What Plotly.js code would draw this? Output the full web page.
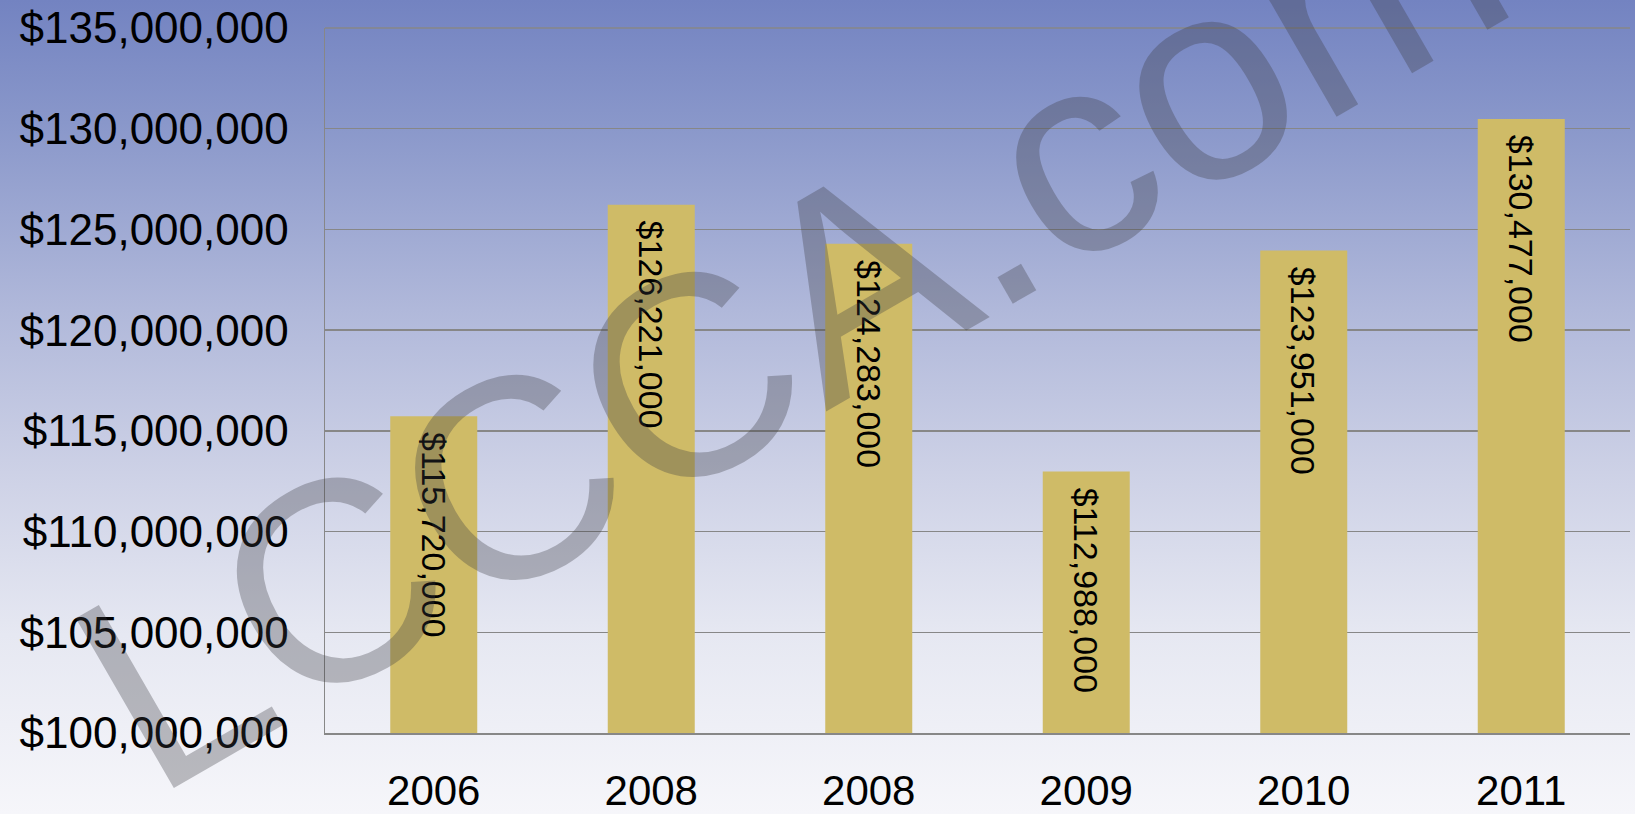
<!DOCTYPE html>
<html>
<head>
<meta charset="utf-8">
<script src="https://cdn.plot.ly/plotly-3.0.1.min.js"></script>
<style>
  html, body { margin: 0; padding: 0; width: 1635px; height: 814px; overflow: hidden; }
  body { background: linear-gradient(to bottom, #7383c1 0%, #8997ca 15%, #b0b8da 38%, #cdd1e6 58%, #e6e8f2 78%, #f6f6fa 100%); }
  #chart { width: 1635px; height: 814px; }
</style>
</head>
<body>
<div id="chart"></div>
<script>
const categories = ["2006", "2008", "2008", "2009", "2010", "2011"];
const values = [115720000, 126221000, 124283000, 112988000, 123951000, 130477000];
const yTickValues = [100000000, 105000000, 110000000, 115000000, 120000000, 125000000, 130000000, 135000000];
const watermarkText = "LCCCA.com";

const FONT = "Liberation Sans, Arial, sans-serif";
const fmt = v => "$" + v.toLocaleString("en-US");
const xIdx = categories.map((_, i) => i);

const trace = {
  type: "bar",
  x: xIdx,
  y: values,
  marker: { color: "#cfbb67", line: { width: 0 } },
  width: 0.4,
  hoverinfo: "none"
};

const labelAnnotations = values.map((v, i) => ({
  x: xIdx[i], y: v, xref: "x", yref: "y",
  text: fmt(v),
  showarrow: false,
  textangle: 90,
  xanchor: "center", yanchor: "top",
  yshift: -14,
  font: { family: FONT, size: 34, color: "#000000" }
}));

const watermark = {
  text: watermarkText,
  xref: "paper", yref: "paper",
  x: (790 - 325) / 1305,
  y: 1 - (318 - 28) / 705,
  xanchor: "center", yanchor: "middle",
  showarrow: false,
  textangle: -30,
  font: { family: FONT, size: 285, color: "rgba(60,60,66,0.32)" }
};

const layout = {
  width: 1635,
  height: 814,
  margin: { l: 325, r: 5, t: 28, b: 81 },
  paper_bgcolor: "rgba(0,0,0,0)",
  plot_bgcolor: "rgba(0,0,0,0)",
  showlegend: false,
  font: { family: FONT, color: "#000000" },
  xaxis: {
    range: [-0.5, 5.5],
    tickmode: "array",
    tickvals: xIdx,
    ticktext: categories,
    showgrid: false,
    zeroline: false,
    showline: true,
    linecolor: "#878787",
    linewidth: 1.5,
    ticks: "",
    ticklabelstandoff: 20,
    tickfont: { size: 42, color: "#000000" }
  },
  yaxis: {
    range: [100000000, 135000000],
    tickmode: "array",
    tickvals: yTickValues,
    ticktext: yTickValues.map(fmt),
    showgrid: true,
    gridcolor: "#878787",
    gridwidth: 1.5,
    zeroline: false,
    showline: true,
    linecolor: "#878787",
    linewidth: 1.5,
    ticks: "",
    ticklabelstandoff: 26,
    tickfont: { size: 44, color: "#000000" }
  },
  shapes: [{
    type: "line", xref: "paper", yref: "paper",
    x0: 0, x1: 1,
    y0: 1, y1: 1,
    line: { color: "#878787", width: 1.5 },
    layer: "below"
  }],
  annotations: labelAnnotations.concat([watermark])
};

Plotly.newPlot("chart", [trace], layout, { staticPlot: true, displayModeBar: false });
</script>
</body>
</html>
